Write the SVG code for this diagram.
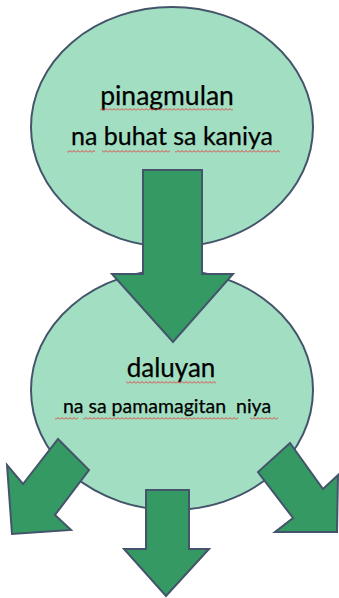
<svg xmlns="http://www.w3.org/2000/svg" width="339" height="598" viewBox="0 0 339 598">
<style>
.node{fill:#A2DFC2;stroke:#44546A;stroke-width:2}
.arrow{fill:#349963;stroke:#44546A;stroke-width:2;stroke-linejoin:miter}
.t{font-family:Lato,"Open Sans","Liberation Sans",sans-serif;fill:#000;text-anchor:middle;stroke:#000;stroke-width:0.25}
.sq{fill:url(#squiggle)}
</style>
<defs>
<pattern id="squiggle" patternUnits="userSpaceOnUse" x="0" y="0" width="4" height="3">
<path d="M0,2.5 L2,0.5 L4,2.5" fill="none" stroke="#E0413F" stroke-width="1"/>
</pattern>
</defs>
<rect width="339" height="598" fill="#fff"/>
<g id="node-pinagmulan">
<ellipse class="node" cx="172" cy="127" rx="141" ry="120"/>
<text class="t" x="167" y="105" font-size="26.5">pinagmulan</text>
<text class="t" x="172" y="145" font-size="25">na buhat sa kaniya</text>
<rect class="sq" x="100" y="108" width="133" height="3"/>
<rect class="sq" x="67" y="150" width="28" height="3"/>
<rect class="sq" x="102" y="150" width="68" height="3"/>
<rect class="sq" x="175" y="150" width="105" height="3"/>
</g>
<g id="node-daluyan">
<ellipse class="node" cx="172" cy="390" rx="141" ry="120"/>
<text class="t" x="171" y="377" font-size="26">daluyan</text>
<text class="t" x="167" y="413" font-size="19.5" xml:space="preserve">na sa pamamagitan  niya</text>
<rect class="sq" x="126" y="381" width="90" height="3"/>
<rect class="sq" x="55" y="417" width="23" height="3"/>
<rect class="sq" x="83" y="417" width="155" height="3"/>
<rect class="sq" x="250" y="417" width="28" height="3"/>
</g>
<g id="connectors">
<polygon class="arrow" points="143,170 202,170 202,274 233,274 173,342 112,274 143,274"/>
<polygon class="arrow" points="146,490 189,490 189,549 209,549 166,596 124,549 146,549"/>
<polygon class="arrow" points="58,439 89,470 55,515 71,530 12,534 7,465 23,484"/>
<polygon class="arrow" points="290,443 323,489 338,475 337,532 275,532 293,518 258,472"/>
</g>
</svg>
